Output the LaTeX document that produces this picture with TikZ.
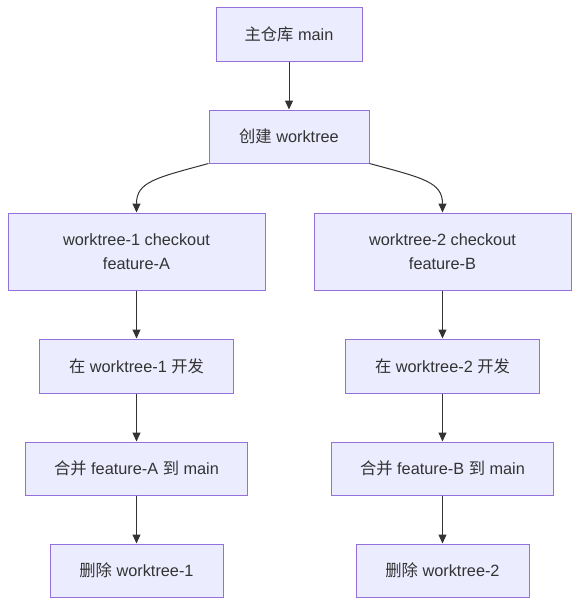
\documentclass[tikz,border=0pt]{standalone}
\usepackage{fontspec}
\setmainfont{Liberation Sans}
\newfontfamily\cjk{Noto Sans CJK SC}
\usetikzlibrary{arrows.meta}
\definecolor{nodefill}{HTML}{ECECFF}
\definecolor{nodeline}{HTML}{9370DB}
\definecolor{ink}{HTML}{333333}
\tikzset{
  box/.style={draw=nodeline, fill=nodefill, line width=1pt, inner sep=0pt, text=ink,
    font=\fontsize{16.3}{23.5}\selectfont, align=center, minimum height=54pt},
  link/.style={draw=ink, line width=1pt, -{Triangle[length=9pt,width=8pt]}},
}
\begin{document}
\begin{tikzpicture}[x=1pt,y=-1pt]
\useasboundingbox (0,0) rectangle (586,614);
\node[box, minimum width=146pt] (b1) at (289,34) {{\cjk 主仓库} main};
\node[box, minimum width=160pt, minimum height=53pt] (b2) at (289,136.5) {{\cjk 创建} worktree};
\node[box, minimum width=257pt, minimum height=77pt] (b3) at (136.5,251.5) {worktree-1 checkout\\feature-A};
\node[box, minimum width=257pt, minimum height=77pt] (b4) at (442.5,251.5) {worktree-2 checkout\\feature-B};
\node[box, minimum width=194pt] (b5) at (136.5,366) {{\cjk 在} worktree-1 {\cjk 开发}};
\node[box, minimum width=194pt] (b6) at (442.5,366) {{\cjk 在} worktree-2 {\cjk 开发}};
\node[box, minimum width=222pt, minimum height=53pt] (b7) at (136.5,468.5) {{\cjk 合并} feature-A {\cjk 到} main};
\node[box, minimum width=222pt, minimum height=53pt] (b8) at (442.5,468.5) {{\cjk 合并} feature-B {\cjk 到} main};
\node[box, minimum width=173pt, minimum height=53pt] (b9) at (136.5,570.5) {{\cjk 删除} worktree-1};
\node[box, minimum width=173pt, minimum height=53pt] (b10) at (442.5,570.5) {{\cjk 删除} worktree-2};
\draw[link] (b1) -- (b2);
\draw[link] (b2.south west) .. controls (155,178) and (136.5,182) .. (b3.north);
\draw[link] (b2.south east) .. controls (423,178) and (442.5,182) .. (b4.north);
\draw[link] (b3) -- (b5);
\draw[link] (b4) -- (b6);
\draw[link] (b5) -- (b7);
\draw[link] (b6) -- (b8);
\draw[link] (b7) -- (b9);
\draw[link] (b8) -- (b10);
\end{tikzpicture}
\end{document}
